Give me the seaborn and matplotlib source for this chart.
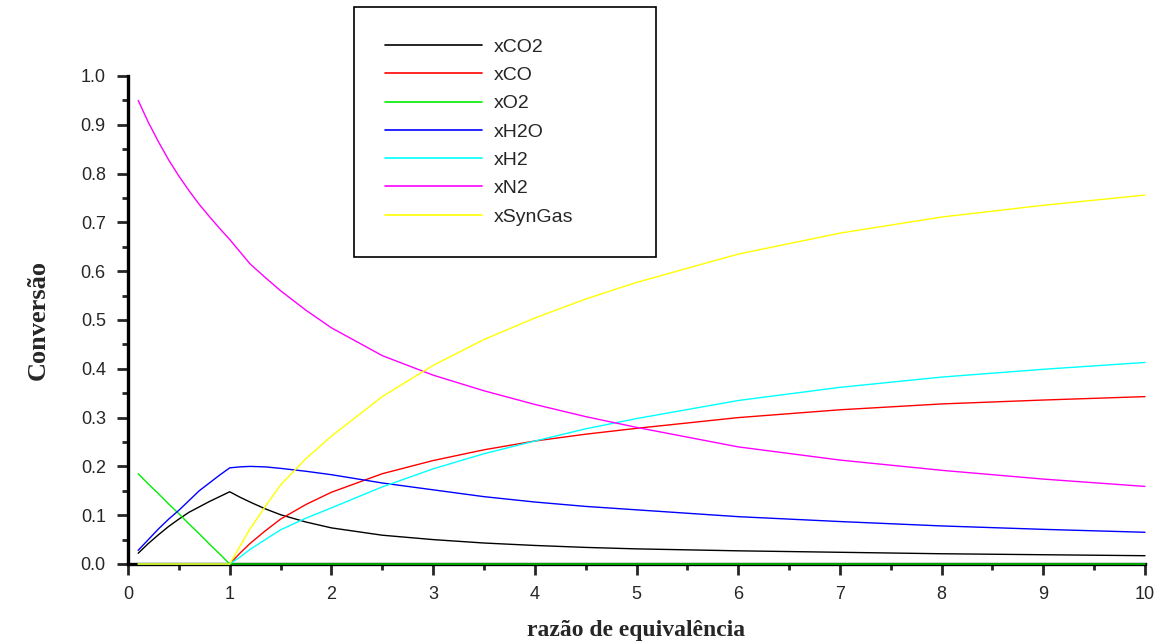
import matplotlib
matplotlib.use('Agg')
import matplotlib.pyplot as plt
from matplotlib.ticker import MultipleLocator, FormatStrFormatter
import pandas as pd
import seaborn as sns

# ── Data ───────────────────────────────────────────────────────
razao = [0.1, 0.2, 0.3, 0.4, 0.5, 0.6, 0.7, 0.8, 0.9, 1.0,
         1.1, 1.2, 1.35, 1.5, 1.75, 2.0, 2.5, 3.0, 3.5, 4.0, 4.5, 5.0,
         6.0, 7.0, 8.0, 9.0, 10.0]

x_co2 = [0.022, 0.042, 0.060, 0.077, 0.092, 0.106, 0.117, 0.128, 0.138, 0.148,
         0.137, 0.127, 0.113, 0.101, 0.086, 0.074, 0.059, 0.050, 0.043, 0.038, 0.034, 0.031,
         0.027, 0.024, 0.021, 0.019, 0.017]
x_co = [0, 0, 0, 0, 0, 0, 0, 0, 0, 0,
        0.022, 0.042, 0.068, 0.092, 0.122, 0.147, 0.185, 0.212, 0.234, 0.252, 0.266, 0.278,
        0.300, 0.316, 0.328, 0.336, 0.343]
x_o2 = [0.185, 0.164, 0.144, 0.123, 0.103, 0.082, 0.062, 0.041, 0.021, 0.0,
        0, 0, 0, 0, 0, 0, 0, 0, 0, 0, 0, 0,
        0, 0, 0, 0, 0]
x_h2o = [0.028, 0.050, 0.072, 0.092, 0.110, 0.130, 0.150, 0.166, 0.182, 0.197,
         0.199, 0.200, 0.199, 0.196, 0.190, 0.183, 0.166, 0.152, 0.138, 0.127, 0.118, 0.111,
         0.097, 0.087, 0.078, 0.071, 0.065]
x_h2 = [0, 0, 0, 0, 0, 0, 0, 0, 0, 0,
        0.014, 0.030, 0.050, 0.070, 0.094, 0.115, 0.158, 0.195, 0.226, 0.252, 0.277, 0.298,
        0.335, 0.362, 0.383, 0.399, 0.413]
x_n2 = [0.950, 0.905, 0.865, 0.828, 0.795, 0.765, 0.737, 0.712, 0.688, 0.665,
        0.640, 0.615, 0.587, 0.560, 0.520, 0.484, 0.427, 0.387, 0.355, 0.327, 0.302, 0.280,
        0.240, 0.213, 0.192, 0.174, 0.159]
x_syngas = [0, 0, 0, 0, 0, 0, 0, 0, 0, 0,
            0.036, 0.072, 0.118, 0.162, 0.216, 0.262, 0.343, 0.407, 0.460, 0.504, 0.543, 0.577,
            0.635, 0.678, 0.711, 0.735, 0.756]

series = [
    ("xCO2", x_co2, "#000000"),
    ("xCO", x_co, "#ff0000"),
    ("xO2", x_o2, "#00ee00"),
    ("xH2O", x_h2o, "#0000ff"),
    ("xH2", x_h2, "#00ffff"),
    ("xN2", x_n2, "#ff00ff"),
    ("xSynGas", x_syngas, "#ffff00"),
]

# ── Plot ───────────────────────────────────────────────────────
sns.set_style("ticks")
plt.rcParams['font.family'] = ['Liberation Sans', 'DejaVu Sans']

fig = plt.figure(figsize=(11.66, 6.42), dpi=100)
ax = fig.add_axes([128 / 1166, 1 - 564 / 642, (1145 - 128) / 1166, (564 - 76) / 642])

for name, vals, col in series:
    df = pd.DataFrame({"razao": razao, "conv": vals})
    sns.lineplot(data=df, x="razao", y="conv", color=col, lw=1.0,
                 label=name, ax=ax, clip_on=False, zorder=4)

ax.set_xlim(0, 10)
ax.set_ylim(0, 1.0)
sns.despine(ax=ax)
for s in ["left", "bottom"]:
    ax.spines[s].set_linewidth(2.4)
    ax.spines[s].set_color("black")

ax.xaxis.set_major_locator(MultipleLocator(1))
ax.xaxis.set_minor_locator(MultipleLocator(0.5))
ax.yaxis.set_major_locator(MultipleLocator(0.1))
ax.yaxis.set_minor_locator(MultipleLocator(0.05))
ax.yaxis.set_major_formatter(FormatStrFormatter('%.1f'))
ax.tick_params(which='major', length=8, width=2, direction='out', labelsize=13, pad=8)
ax.tick_params(which='minor', length=4, width=2, direction='out')

ax.set_xlabel("razão de equivalência", family='Liberation Serif',
              fontweight='bold', fontsize=17, labelpad=12)
ax.set_ylabel("Conversão", family='Liberation Serif',
              fontweight='bold', fontsize=19, labelpad=22)

leg = ax.legend(loc='upper left',
                bbox_to_anchor=(354 / 1166, 1 - 255 / 642, 302 / 1166, 248 / 642),
                bbox_transform=fig.transFigure, mode='expand',
                frameon=True, fancybox=False, edgecolor='black', framealpha=1,
                fontsize=14, handlelength=5.0, handletextpad=0.6,
                borderpad=1.6, labelspacing=0.55, borderaxespad=0)
leg.get_frame().set_linewidth(1.2)
for line in leg.get_lines():
    line.set_linewidth(1.2)

fig.savefig("out.png", dpi=100)
